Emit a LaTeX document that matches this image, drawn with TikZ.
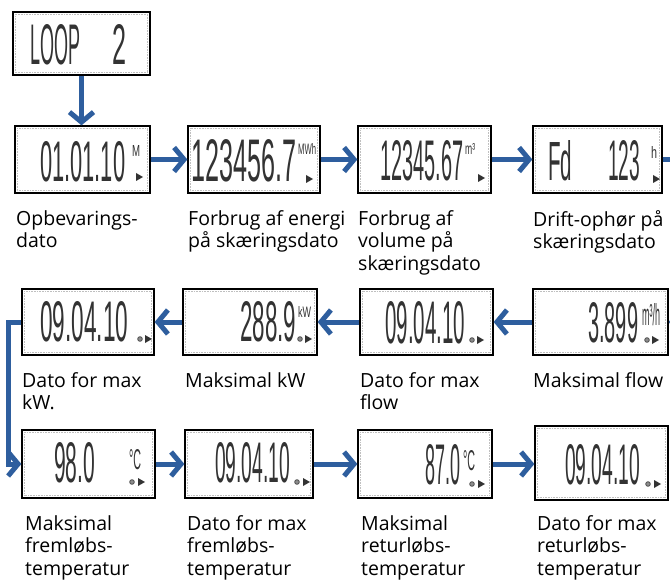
\documentclass[tikz,border=0pt]{standalone}
\usepackage{fontspec}
\setmainfont{Open Sans}
\newfontfamily\lcdfont{Liberation Sans}
\usetikzlibrary{arrows.meta}
\definecolor{arrowblue}{RGB}{46,94,158}
\newcommand\seg[3]{\resizebox{#1bp}{#2bp}{\lcdfont #3}}
\newcommand\lcdbox[5]{%
  \node[lcd, minimum width=#4bp, minimum height=#5bp] (#1) at (#2,#3) {};
  \draw[lcdin] ([shift={(3,3)}]#1.north west) rectangle ([shift={(-3,-3)}]#1.south east);
}
\newcommand\lcdtri[2]{\fill[black!80] (#1,#2) -- ++(0,-8) -- ++(7,4) -- cycle;}
\newcommand\lcdcirc[2]{\draw[black!70, fill=black!45, line width=0.8bp] (#1,#2) circle (2.3);}
\begin{document}
\begin{tikzpicture}[x=1bp,y=-1bp,
  lcd/.style={draw=black, line width=1.3bp, fill=white, inner sep=0pt, rectangle},
  lcdin/.style={draw=black!25, line width=0.6bp, densely dotted},
  flow/.style={draw=arrowblue, line width=5bp, -{Straight Barb[length=10bp,width=24bp,line width=5bp]}},
  flowline/.style={draw=arrowblue, line width=5bp},
  digits/.style={inner sep=0pt, anchor=south west, text=black!80},
  unit/.style={inner sep=0pt, anchor=north west, text=black!80},
  lab/.style={inner sep=0pt, anchor=north west, align=left, font=\fontsize{19.5bp}{22.5bp}\selectfont, text=black}
]
\fill[white] (0,0) rectangle (670,582);
\useasboundingbox (0,0) rectangle (670,582);

% boxes
\lcdbox{top}{81.5}{43.5}{137}{63}
\lcdbox{b11}{82.5}{159.5}{135}{67}
\lcdbox{b12}{254}{159.5}{132}{67}
\lcdbox{b13}{424.5}{159.5}{133}{67}
\lcdbox{b14}{597.5}{159.5}{129}{67}
\lcdbox{b21}{88}{322}{132}{66}
\lcdbox{b22}{250}{322}{134}{66}
\lcdbox{b23}{426.5}{322}{133}{66}
\lcdbox{b24}{600.5}{322}{135}{66}
\lcdbox{b31}{88.5}{464}{133}{68}
\lcdbox{b32}{249}{464}{128}{68}
\lcdbox{b33}{425}{464}{134}{68}
\lcdbox{b34}{601.5}{463}{133}{74}

% display contents
\node[digits] (dtop) at (30,65) {\seg{50}{40}{LOOP}};
\node[digits] (dtop2) at (112,65) {\seg{14}{40}{2}};

\node[digits] (d11) at (40,182) {\seg{85}{40}{01.01.10}};
\node[unit] (u11) at (132,145) {\seg{8}{11}{M}};
\lcdtri{136}{181}
\node[digits] (d12) at (191,182) {\seg{105}{42}{123456.7}};
\node[unit] (u12) at (298,143) {\seg{18}{11}{MWh}};
\lcdtri{306}{183}
\node[digits] (d13) at (380,181) {\seg{83}{40}{12345.67}};
\node[unit] (u13) at (465,143) {\seg{10}{11}{m³}};
\lcdtri{478}{182}
\node[digits] (d14a) at (548,181) {\seg{24}{40}{Fd}};
\node[digits] (d14b) at (608,181) {\seg{32}{40}{123}};
\node[unit] (u14) at (651,146) {\seg{6}{12}{h}};
\lcdtri{653}{183}

\node[digits] (d21) at (40,342) {\seg{88}{40}{09.04.10}};
\lcdcirc{140}{339}\lcdtri{145}{343}
\node[digits] (d22) at (240,342) {\seg{56}{40}{288.9}};
\node[unit] (u22) at (298,306) {\seg{13}{11}{kW}};
\lcdcirc{300}{339}\lcdtri{305}{343}
\node[digits] (d23) at (385,344) {\seg{80}{42}{09.04.10}};
\lcdcirc{472}{340}\lcdtri{477}{344}
\node[digits] (d24) at (588,343) {\seg{50}{40}{3.899}};
\node[unit] (u24) at (642,303) {\seg{18}{22}{m³/h}};
\lcdcirc{647}{340}\lcdtri{652}{344}

\node[digits] (d31) at (54,483) {\seg{41}{40}{98.0}};
\node[unit] (u31) at (129,449) {\seg{12}{20}{°C}};
\lcdcirc{132}{482}\lcdtri{138}{486}
\node[digits] (d32) at (215,483) {\seg{75}{40}{09.04.10}};
\lcdcirc{297}{482}\lcdtri{303}{486}
\node[digits] (d33) at (425,485) {\seg{35}{40}{87.0}};
\node[unit] (u33) at (463,450) {\seg{12}{20}{°C}};
\lcdcirc{472}{484}\lcdtri{478}{488}
\node[digits] (d34) at (565,485) {\seg{75}{40}{09.04.10}};
\lcdcirc{648}{484}\lcdtri{654}{488}

% labels
\node[lab] (l11) at (16,210) {Opbevarings-\\dato};
\node[lab] (l12) at (188,210) {Forbrug af energi\\på skæringsdato};
\node[lab] (l13) at (358,210) {Forbrug af\\volume på\\skæringsdato};
\node[lab] (l14) at (533,210) {Drift-ophør på\\skæringsdato};
\node[lab] (l21) at (22,372) {Dato for max\\kW.};
\node[lab] (l22) at (185,372) {Maksimal kW};
\node[lab] (l23) at (360,372) {Dato for max\\flow};
\node[lab] (l24) at (533,372) {Maksimal flow};
\node[lab] (l31) at (25,515) {Maksimal\\fremløbs-\\temperatur};
\node[lab] (l32) at (187,515) {Dato for max\\fremløbs-\\temperatur};
\node[lab] (l33) at (361,515) {Maksimal\\returløbs-\\temperatur};
\node[lab] (l34) at (537,515) {Dato for max\\returløbs-\\temperatur};

% connectors
\coordinate (e1) at (672,159.5);
\coordinate (e2) at (672,322);
\coordinate (c1) at (8,322);
\draw[flow] (top.south) -- (top.south |- b11.north);
\draw[flow] (b11.east) -- (b12.west);
\draw[flow] (b12.east) -- (b13.west);
\draw[flow] (b13.east) -- (b14.west);
\draw[flowline] (b14.east) -- (e1);
\draw[flow] (e2) -- (b24.east);
\draw[flow] (b24.west) -- (b23.east);
\draw[flow] (b23.west) -- (b22.east);
\draw[flow] (b22.west) -- (b21.east);
\draw[flow] (b21.west) -- (c1) |- (b31.west);
\draw[flow] (b31.east) -- (b32.west);
\draw[flow] (b32.east) -- (b33.west);
\draw[flow] (b33.east) -- (b33.east -| b34.west);
\end{tikzpicture}
\end{document}
